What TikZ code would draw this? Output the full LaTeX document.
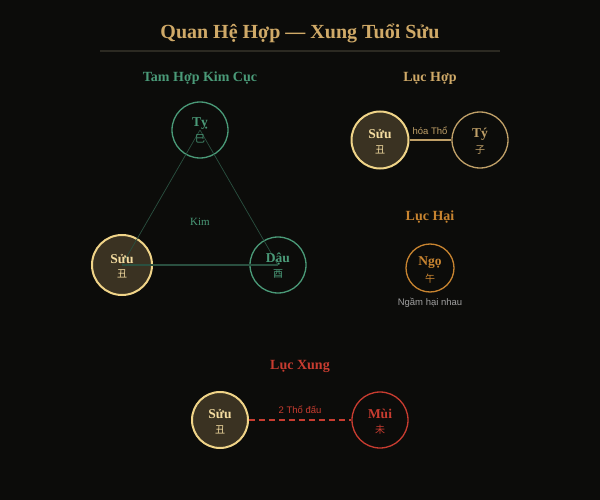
\documentclass[tikz,border=0pt]{standalone}
\usepackage{fontspec}
\setmainfont{Liberation Serif}
\newfontfamily\sansf{Liberation Sans}
\newfontfamily\cjk{Noto Sans CJK SC}
\definecolor{bg}{HTML}{0C0C0A}
\definecolor{gold}{HTML}{D0AA68}
\definecolor{rule}{HTML}{2C2A22}
\definecolor{green}{HTML}{4A9A78}
\definecolor{dgreen}{HTML}{2A5040}
\definecolor{suufill}{HTML}{3A3222}
\definecolor{suuline}{HTML}{F0D488}
\definecolor{suutext}{HTML}{F4DCA0}
\definecolor{tan}{HTML}{C0A068}
\definecolor{orange}{HTML}{C88430}
\definecolor{red}{HTML}{C83C30}
\definecolor{grey}{HTML}{A0A0A0}
\begin{document}
\begin{tikzpicture}[x=1pt,y=-1pt,
  circ/.style={circle,draw,line width=1.3pt,minimum size=#1,inner sep=0pt},
  suu/.style={circle,draw=suuline,fill=suufill,line width=2pt,minimum size=60pt,inner sep=0pt},
  sect/.style={font=\bfseries\fontsize{14}{16}\selectfont},
  nm/.style={font=\bfseries\fontsize{13.5}{15}\selectfont},
  ch/.style={font=\cjk\fontsize{10}{12}\selectfont},
  small/.style={font=\sansf\fontsize{9.5}{11}\selectfont}]
\fill[bg] (0,0) rectangle (600,500);
\useasboundingbox (0,0) rectangle (600,500);
\node[text=gold,font=\bfseries\fontsize{20}{23}\selectfont] (title) at (300,33.5) {Quan Hệ Hợp — Xung Tuổi Sửu};
\coordinate (rl) at (100,51); \coordinate (rr) at (500,51);
\draw[rule,line width=1.2pt] (rl) -- (rr);
% Tam hop
\node[sect,text=green] (th) at (200,78.5) {Tam Hợp Kim Cục};
\node[circ=56pt,draw=green] (ty) at (200,130) {};
\node[circ=56pt,draw=green] (dau) at (278,265) {};
\node[suu] (s1) at (122,265) {};
\draw[dgreen,line width=0.7pt] (ty.center) -- (s1.center);
\draw[dgreen,line width=0.7pt] (ty.center) -- (dau.center);
\draw[dgreen,line width=1.4pt] (s1.center) -- (dau.center);
\node[font=\fontsize{11}{13}\selectfont,text=green] (kim) at (200,221.5) {Kim};
\node[nm,text=green] (tyn) at (200,124) {Tỵ};
\node[ch,text=green] (tyc) at (200,139) {巳};
\node[nm,text=green] (daun) at (278,259) {Dậu};
\node[ch,text=green] (dauc) at (278,274) {酉};
\node[nm,text=suutext] (s1n) at (122,259) {Sửu};
\node[ch,text=suutext] (s1c) at (122,274) {丑};
% Luc hop
\node[sect,text=gold] (lh) at (430,78.5) {Lục Hợp};
\node[suu,minimum size=57pt] (s2) at (380,140) {};
\node[circ=56pt,draw=tan] (tyy) at (480,140) {};
\draw[tan,line width=2pt] (s2) -- (tyy);
\node[small,text=tan] (hoa) at (430,130.5) {hóa Thổ};
\node[nm,text=suutext] (s2n) at (380,134) {Sửu};
\node[ch,text=suutext] (s2c) at (380,150) {丑};
\node[nm,text=tan] (tyyn) at (480,134) {Tý};
\node[ch,text=tan] (tyyc) at (480,150) {子};
% Luc hai
\node[sect,text=orange] (lhai) at (430,217.5) {Lục Hại};
\node[circ=48pt,draw=orange] (ngo) at (430,268) {};
\node[nm,text=orange] (ngon) at (430,263) {Ngọ};
\node[ch,text=orange] (ngoc) at (430,279) {午};
\node[small,text=grey] (nham) at (430,302.5) {Ngầm hại nhau};
% Luc xung
\node[sect,text=red] (lx) at (300,366.5) {Lục Xung};
\node[suu,minimum size=56pt] (s3) at (220,420) {};
\node[circ=56pt,draw=red] (mui) at (380,420) {};
\draw[red,line width=1.5pt,dash pattern=on 6pt off 4pt] (s3) -- (mui);
\node[small,text=red] (dau2) at (300,409.5) {2 Thổ đấu};
\node[nm,text=suutext] (s3n) at (220,414) {Sửu};
\node[ch,text=suutext] (s3c) at (220,430) {丑};
\node[nm,text=red] (muin) at (380,414) {Mùi};
\node[ch,text=red] (muic) at (380,430) {未};
\end{tikzpicture}
\end{document}
